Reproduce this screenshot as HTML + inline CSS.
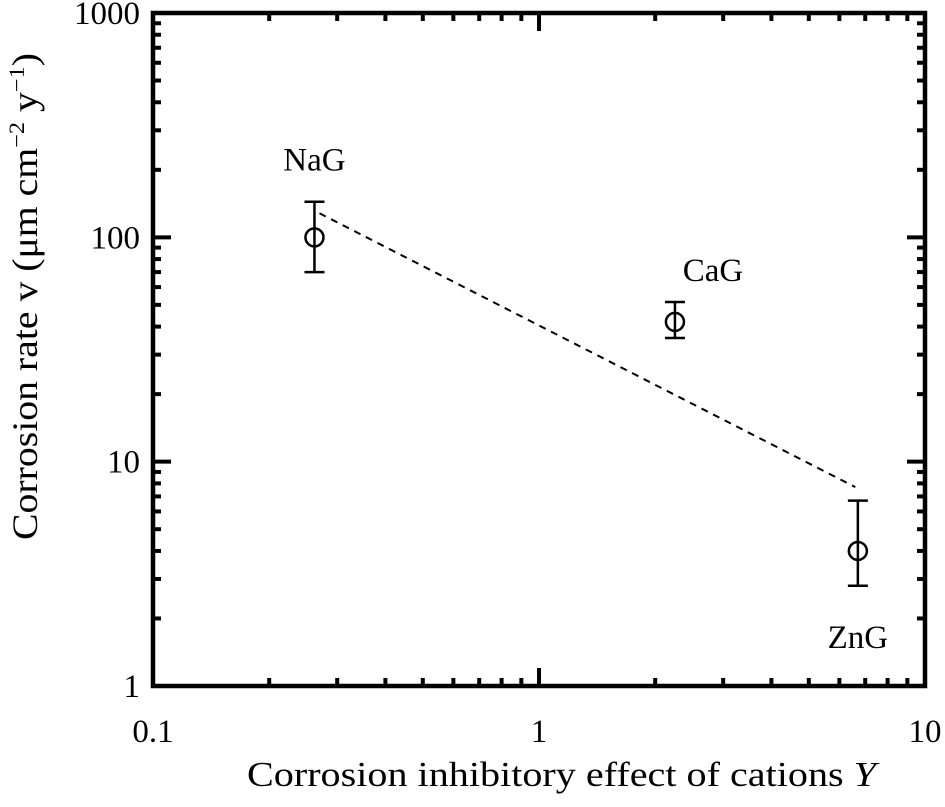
<!DOCTYPE html>
<html><head><meta charset="utf-8"><style>
body{margin:0;background:#fff}
svg{font-family:"Liberation Serif",serif}
</style></head><body>
<svg id="chart" width="945" height="802" viewBox="0 0 945 802" xmlns="http://www.w3.org/2000/svg">
<g id="g"></g>
</svg>
<script>
const labels=["NaG","CaG","ZnG"];
const xVals=[0.262,2.25,6.7];
const yVals=[100,42,4.0];
const yLow=[70,35.6,2.8];
const yHigh=[144,51.5,6.7];
const fitX=[0.27,6.6];
const fitY=[128,7.7];
const xTicks=[0.1,1,10];
const xTickLabels=["0.1","1","10"];
const yTicks=[1,10,100,1000];
const yTickLabels=["1","10","100","1000"];
const labelOffsets=[[0,-78],[38,-52],[0,86]];

const L=153,R=925,T=13,B=686;
const X=v=>L+(Math.log10(v)+1)/2*(R-L);
const Y=v=>B-Math.log10(v)/3*(B-T);
const g=document.getElementById('g');
const NS="http://www.w3.org/2000/svg";
function mk(t,a,p){const e=document.createElementNS(NS,t);for(const k in a)e.setAttribute(k,a[k]);(p||g).appendChild(e);return e;}
function line(x1,y1,x2,y2,w,name,extra){const e=mk('line',Object.assign({x1,y1,x2,y2,stroke:'#000','stroke-width':w},extra||{}));

return e;}
for(let d=-1;d<1;d++)for(let m=1;m<10;m++){const v=m*Math.pow(10,d);const x=X(v);const len=m==1?18:8;
line(x,B,x,B-len,4,'x-tick');line(x,T,x,T+len,4,'x-tick');}
for(let d=0;d<3;d++)for(let m=1;m<10;m++){const v=m*Math.pow(10,d);const y=Y(v);const len=m==1?18:8;
line(L,y,L+len,y,4,'y-tick');line(R,y,R-len,y,4,'y-tick');}
const fr=mk('rect',{x:L,y:T,width:R-L,height:B-T,fill:'none',stroke:'#000','stroke-width':4.5});


xTicks.forEach((v,i)=>{const t=mk('text',{x:X(v),y:742,'font-size':33,'text-anchor':'middle'});t.textContent=xTickLabels[i];

});
yTicks.forEach((v,i)=>{const t=mk('text',{x:140,y:Y(v)+11,'font-size':33,'text-anchor':'end'});t.textContent=yTickLabels[i];

});
line(X(fitX[0]),Y(fitY[0]),X(fitX[1]),Y(fitY[1]),2,'fit-line',{'stroke-dasharray':'7,6'});
xVals.forEach((xv,i)=>{const x=X(xv);
line(x,Y(yLow[i]),x,Y(yHigh[i]),2.5,'error-bar');
line(x-10,Y(yLow[i]),x+10,Y(yLow[i]),2.5,'error-cap');
line(x-10,Y(yHigh[i]),x+10,Y(yHigh[i]),2.5,'error-cap');
const c=mk('circle',{cx:x,cy:Y(yVals[i]),r:9,fill:'#fff',stroke:'#000','stroke-width':2.5});


line(x,Y(yVals[i])-9,x,Y(yVals[i])+9,2.5,'error-bar');
const t=mk('text',{x:x+labelOffsets[i][0],y:Y(yVals[i])+labelOffsets[i][1]+11,'font-size':33,'text-anchor':'middle'});t.textContent=labels[i];

});
</script>
<svg style="position:absolute;left:0;top:0" width="945" height="802" xmlns="http://www.w3.org/2000/svg">
<text x="247" y="786" font-size="35" textLength="629" lengthAdjust="spacingAndGlyphs" font-family="Liberation Serif, serif">Corrosion inhibitory effect of cations <tspan font-style="italic">Y</tspan></text>
<text transform="translate(37,540) rotate(-90)" font-size="36" textLength="487" lengthAdjust="spacingAndGlyphs" font-family="Liberation Serif, serif">Corrosion rate  v  (μm cm<tspan font-size="22" dy="-13">−2</tspan><tspan dy="13"> y</tspan><tspan font-size="22" dy="-13">−1</tspan><tspan dy="13">)</tspan></text>
</svg>
</body></html>
